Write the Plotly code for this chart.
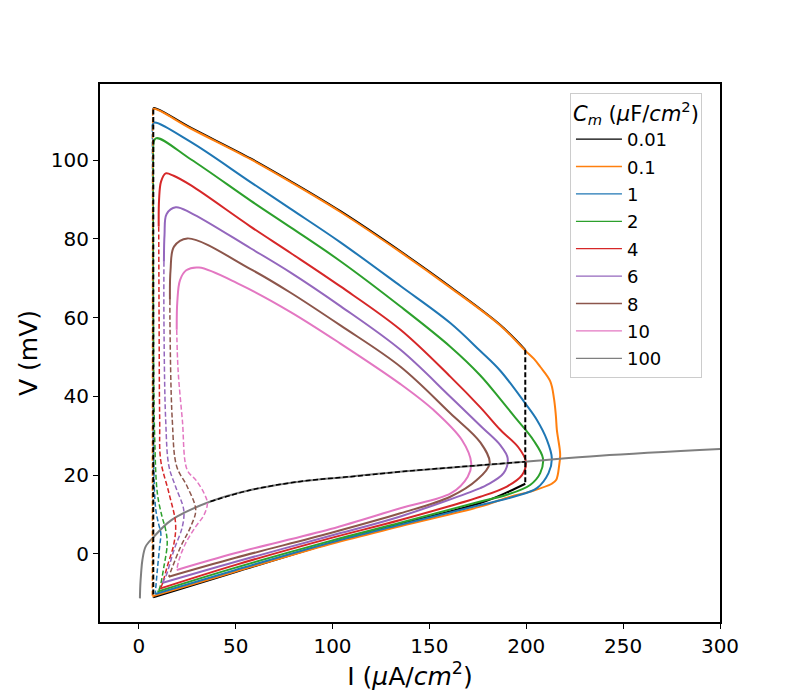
import plotly.graph_objects as go

# membrane capacitance values (uF/cm^2) and colours
cm_labels = ["0.01", "0.1", "1", "2", "4", "6", "8", "10", "100"]
cm_colors = ["#000000", "#ff7f0e", "#1f77b4", "#2ca02c", "#d62728",
             "#9467bd", "#8c564b", "#e377c2", "#7f7f7f"]

# Cm = 0.01 : relaxation limit (top and bottom branches)
black_top_I = [7.5, 7.9, 26.8, 57.7, 78.4, 104.1, 135.1, 160.8, 186.6, 199.5]
black_top_V = [112.8, 113.2, 108.2, 100.4, 94.6, 87.0, 76.8, 67.8, 58.1, 51.8]
black_bot_I = [7.5, 50, 99, 135, 176.3, 190, 199.5]
black_bot_V = [-11.0, -4.6, 2.7, 7.6, 12.9, 15.6, 17.8]

# stable limit cycles (max branch -> turning point -> min branch)
orange_I = [7.2, 7.9, 26.8, 57.7, 78.4, 104.1, 135.1, 160.8, 186.6, 199.5, 204, 207.2, 212.4,
            214.3, 215.3, 215.8, 217.3, 217.5, 217.0, 215.5, 213.2, 202, 191.8, 176.3,
            135, 99, 50, 7.0]
orange_V = [112.5, 113.0, 108.0, 100.2, 94.4, 86.8, 76.6, 67.6, 58.0, 51.6, 49.5, 47.5, 43.8,
            39.5, 35.0, 31.5, 26.5, 25.0, 22.5, 18.8, 17.8, 15.8, 14.5, 12.0,
            7.0, 2.5, -4.5, -10.8]

blue_I = [7.0, 7.9, 26.8, 57.7, 78.4, 104.1, 135.1, 160.8, 176.3, 186.6, 199.5, 205.5, 210.7,
          213.2, 211.5, 205.5, 193.5, 176.3, 135, 99, 50, 8.5]
blue_V = [108.5, 109.5, 104.6, 94.4, 87.6, 79.1, 68.0, 58.6, 51.5, 46.5, 38.2, 34.0, 28.9,
          24.3, 20.5, 16.7, 14.5, 12.4, 7.4, 2.9, -4.1, -10.2]

green_I = [7.5, 8.8, 26.8, 57.7, 78.4, 104.1, 135.1, 160.8, 176.3, 186.6, 195, 203.8, 208.6,
           207.2, 202, 190, 176.3, 135, 99, 50, 9.6]
green_V = [102.0, 105.5, 100.2, 89.7, 82.9, 74.3, 62.8, 52.6, 45.3, 39.3, 34.2, 28.8, 24.3,
           20.5, 17.5, 15.0, 13.3, 7.9, 3.3, -3.5, -9.6]

red_I = [10.3, 10.5, 11.5, 13.9, 18, 26.8, 57.7, 78.4, 104.1, 135.1, 160.8, 176.3, 186.6, 196,
         199.8, 197.8, 190, 176.3, 135, 99, 50, 10.5]
red_V = [83.1, 90.0, 94.5, 96.6, 96.0, 93.6, 83.1, 76.4, 67.9, 56.9, 45.0, 37.2, 31.5, 27.0,
         23.4, 20.0, 17.1, 14.5, 8.6, 4.0, -2.8, -8.9]

purple_I = [13.0, 13.3, 14.4, 19.1, 26.8, 57.7, 78.4, 104.1, 135.1, 160.8, 177, 186.6,
            190.4, 188.3, 179.7, 176.3, 135, 99, 50, 12.0]
purple_V = [74.2, 81.0, 86.3, 88.0, 86.6, 77.6, 71.4, 62.9, 51.8, 39.9, 32.2, 27.6,
            24.3, 20.5, 17.5, 16.7, 9.5, 4.6, -2.0, -7.4]

brown_I = [16.1, 16.4, 18.2, 25.1, 57.7, 78.4, 104.1, 135.1, 160.8, 176.3, 181.1, 174.6,
           160.8, 135, 99, 50, 15.5]
brown_V = [64.5, 72.0, 78.0, 80.1, 72.3, 66.3, 58.0, 47.5, 35.7, 28.3, 23.0, 18.8,
           14.5, 10.3, 5.3, -1.0, -5.8]

pink_I = [19.6, 19.9, 21.3, 24.5, 31.1, 52.6, 78.4, 104.1, 135.1, 152.2, 166.8, 171.6,
          169.8, 161.2, 135, 99, 50, 19.6]
pink_V = [56.9, 64.0, 69.5, 72.0, 72.7, 68.3, 61.4, 53.4, 43.1, 36.5, 28.9, 23.0,
          19.6, 15.4, 11.6, 6.3, 0.2, -4.1]

# unstable limit cycles (dashed)
blue_u_I = [7.0, 7.2, 7.3, 7.6, 8.8, 10.3, 11.4, 10.8, 9.6, 8.5]
blue_u_V = [108.5, 90, 60, 25, 11.2, 7.5, 5.2, 2.0, -4.1, -10.2]
green_u_I = [7.5, 7.6, 8.2, 9.6, 12.0, 13.9, 14.7, 13.0, 10.5, 9.6]
green_u_V = [102.0, 60, 30, 15.4, 9.5, 6.1, 2.7, -3.2, -9.1, -9.6]
red_u_I = [10.3, 10.5, 10.8, 11.3, 15.6, 19.0, 18.2, 14.7, 11.6, 10.5]
red_u_V = [83.1, 59.4, 34.0, 23.9, 15.4, 7.8, 2.7, -3.2, -8.3, -8.9]
purple_u_I = [13.0, 13.0, 13.9, 15.6, 19.0, 23.2, 22.5, 18.2, 13.9, 12.0]
purple_u_V = [74.2, 59.4, 34.0, 22.2, 17.1, 11.2, 6.9, 1.0, -5.8, -7.4]
brown_u_I = [16.1, 16.1, 17.3, 19.6, 25.0, 29.4, 26.8, 21.6, 15.5]
brown_u_V = [64.5, 59.4, 34.0, 22.2, 17.1, 11.2, 6.9, 1.8, -5.8]
pink_u_I = [19.6, 20.3, 22.5, 25.0, 29.4, 33.7, 35.4, 33.7, 29.4, 24.2, 20.8, 19.6]
pink_u_V = [56.9, 46.7, 34.0, 21.3, 18.8, 15.4, 12.9, 9.9, 6.9, 2.7, -1.5, -4.1]

# equilibrium curve (Cm = 100 follows it)
eq_I = [0.6, 0.8, 1.2, 1.9, 3.6, 7.9, 14.8, 19.9, 37, 57.7, 83.5, 109, 136, 199.5, 238, 300]
eq_V = [-11.3, -8.0, -5.0, -1.5, 1.9, 4.4, 7.8, 9.5, 13.3, 16.2, 18.4, 19.6, 20.9, 23.4, 24.9, 26.6]
eq_unstable = (8, 13)  # index range drawn dashed black

DASH = "5px,2.5px"
fig = go.Figure()

def line(x, y, color, dash=None, width=2, shape="spline"):
    fig.add_trace(go.Scatter(x=x, y=y, mode="lines", showlegend=False, hoverinfo="skip",
                             line=dict(color=color, width=width, dash=dash,
                                       shape=shape, smoothing=1.0)))

# solid (stable) branches
line(black_top_I, black_top_V, cm_colors[0])
line(black_bot_I, black_bot_V, cm_colors[0])
stable = [(orange_I, orange_V), (blue_I, blue_V), (green_I, green_V), (red_I, red_V),
          (purple_I, purple_V), (brown_I, brown_V), (pink_I, pink_V)]
for k, (x, y) in enumerate(stable):
    line(x, y, cm_colors[k + 1])

# equilibrium (Cm = 100)
line(eq_I, eq_V, cm_colors[8])

# dashed (unstable) branches
unstable = [(blue_u_I, blue_u_V), (green_u_I, green_u_V), (red_u_I, red_u_V),
            (purple_u_I, purple_u_V), (brown_u_I, brown_u_V), (pink_u_I, pink_u_V)]
for k, (x, y) in enumerate(unstable):
    line(x, y, cm_colors[k + 2], dash=DASH, width=1.5)
line([orange_I[0], orange_I[-1]], [orange_V[0], orange_V[-1]], cm_colors[1],
     dash=DASH, width=1.5, shape="linear")

a, b = eq_unstable
line(eq_I[a:b + 1], eq_V[a:b + 1], "black", dash=DASH, width=1.5)
line([black_top_I[0], black_bot_I[0]], [black_top_V[0], black_bot_V[0]], "black",
     dash=DASH, width=2, shape="linear")
line([black_top_I[-1], black_bot_I[-1]], [black_top_V[-1], black_bot_V[-1]], "black",
     dash=DASH, width=2, shape="linear")

# legend entries
for lab, col in zip(cm_labels, cm_colors):
    fig.add_trace(go.Scatter(x=[None], y=[None], mode="lines", name=lab,
                             legendgroup=lab, line=dict(color=col, width=1.3)))

axis = dict(showline=True, linecolor="black", linewidth=2, mirror=True, ticks="outside",
            ticklen=5, tickwidth=1.2, tickcolor="black", showgrid=False, zeroline=False,
            tickfont=dict(size=20, color="black"))

fig.update_layout(
    width=800, height=700,
    margin=dict(l=92, r=88, t=76, b=86),
    plot_bgcolor="white", paper_bgcolor="white",
    font=dict(family="DejaVu Sans", color="black"),
    xaxis=dict(axis, range=[-20, 300], tickvals=[0, 50, 100, 150, 200, 250, 300],
               title=dict(text="I (<i>μ</i>A/<i>cm</i><sup>2</sup>)", font=dict(size=25),
                          standoff=5)),
    yaxis=dict(axis, range=[-17.3, 119.3], tickvals=[0, 20, 40, 60, 80, 100],
               title=dict(text="V (mV)", font=dict(size=25), standoff=6)),
    legend=dict(x=0.758, y=0.984, xanchor="left", yanchor="top",
                bgcolor="white", bordercolor="#cccccc", borderwidth=1,
                font=dict(size=18), traceorder="grouped", tracegroupgap=1,
                itemwidth=46,
                title=dict(text="<i>C</i><sub><i>m</i></sub> (<i>μ</i>F/<i>cm</i><sup>2</sup>)",
                           font=dict(size=21), side="top")),
)

fig.write_html("out.html")
